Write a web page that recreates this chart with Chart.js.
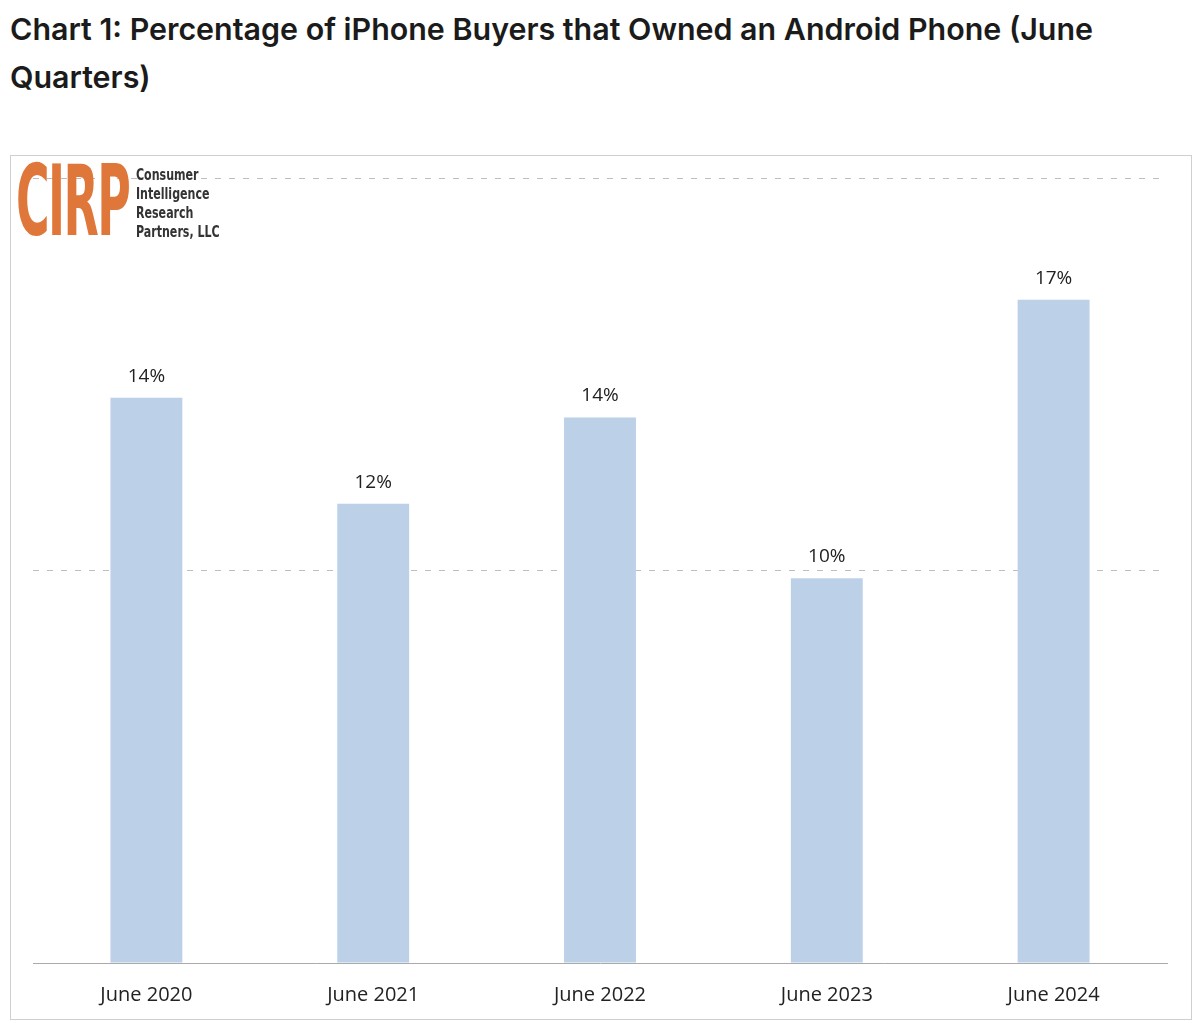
<!DOCTYPE html>
<html>
<head>
<meta charset="utf-8">
<script src="https://cdn.jsdelivr.net/npm/chart.js@4/dist/chart.umd.min.js"></script>
<style>
  body { margin: 0; background: #fff; font-family: "Inter", "Noto Sans", sans-serif; }
  h1 { position: absolute; left: 10px; top: 5px; margin: 0; width: 1110px;
       font-size: 30.4px; line-height: 48px; font-weight: 600; color: #1b1b1b; }
  #frame { position: absolute; left: 10px; top: 155px; width: 1180px; height: 863px;
           border: 1px solid #cfcfcf; }
  #logo { position: absolute; left: 5px; top: 4px; height: 80px; }
  #cirp { position: absolute; left: 0; top: -16px; font-family: "DejaVu Sans Condensed", sans-serif;
          font-size: 98px; font-weight: bold; color: #e0773a; transform: scaleX(0.52);
          transform-origin: left top; letter-spacing: -3px; }
  #sub { position: absolute; left: 120px; top: 6px; font-family: "DejaVu Sans Condensed", sans-serif;
         font-size: 15px; font-weight: bold; line-height: 19px; color: #333; white-space: nowrap;
         transform: scaleX(0.82); transform-origin: left top; }
  canvas { position: absolute; left: 0; top: 0; }
</style>
</head>
<body>
<h1>Chart 1: Percentage of iPhone Buyers that Owned an Android Phone (June Quarters)</h1>
<div id="frame">
  <canvas id="chart" width="1180" height="863"></canvas>
  <div id="logo"><div id="cirp">CIRP</div>
    <div id="sub">Consumer<br>Intelligence<br>Research<br>Partners, LLC</div></div>
</div>
<script>
const categories = ['June 2020', 'June 2021', 'June 2022', 'June 2023', 'June 2024'];
const values = [14.4, 11.7, 13.9, 9.8, 16.9];
const valueLabels = ['14%', '12%', '14%', '10%', '17%'];
const yTicks = [0, 10, 20];

const barLabels = {
    id: 'barLabels',
    afterDatasetsDraw(chart) {
        const ctx = chart.ctx;
        ctx.save();
        ctx.font = '19px "Open Sans", sans-serif';
        ctx.fillStyle = '#222';
        ctx.textAlign = 'center';
        ctx.textBaseline = 'bottom';
        chart.getDatasetMeta(0).data.forEach((bar, i) => {
            ctx.fillText(valueLabels[i], bar.x, bar.y - 12);
        });
        ctx.restore();
    }
};

new Chart(document.getElementById('chart'), {
    type: 'bar',
    data: {
        labels: categories,
        datasets: [{
            data: values,
            backgroundColor: '#bcd0e8',
            categoryPercentage: 1,
            barPercentage: 0.317
        }]
    },
    options: {
        responsive: false,
        animation: false,
        layout: { padding: { left: 22, right: 24, top: 22, bottom: 0 } },
        plugins: { legend: { display: false }, tooltip: { enabled: false } },
        scales: {
            x: {
                grid: { display: false },
                border: { color: '#aaa' },
                ticks: { color: '#222', font: { size: 20, family: '"Open Sans", sans-serif' }, padding: 12 },
                afterFit(s) { s.height = 56; }
            },
            y: {
                min: 0, max: 20,
                afterBuildTicks(s) { s.ticks = yTicks.map(v => ({ value: v })); },
                ticks: { display: false },
                border: { display: false, dash: [6, 8] },
                grid: { color: c => c.tick.value === 0 ? 'rgba(0,0,0,0)' : '#bdbdbd', drawTicks: false }
            }
        }
    },
    plugins: [barLabels]
});
</script>
</body>
</html>
